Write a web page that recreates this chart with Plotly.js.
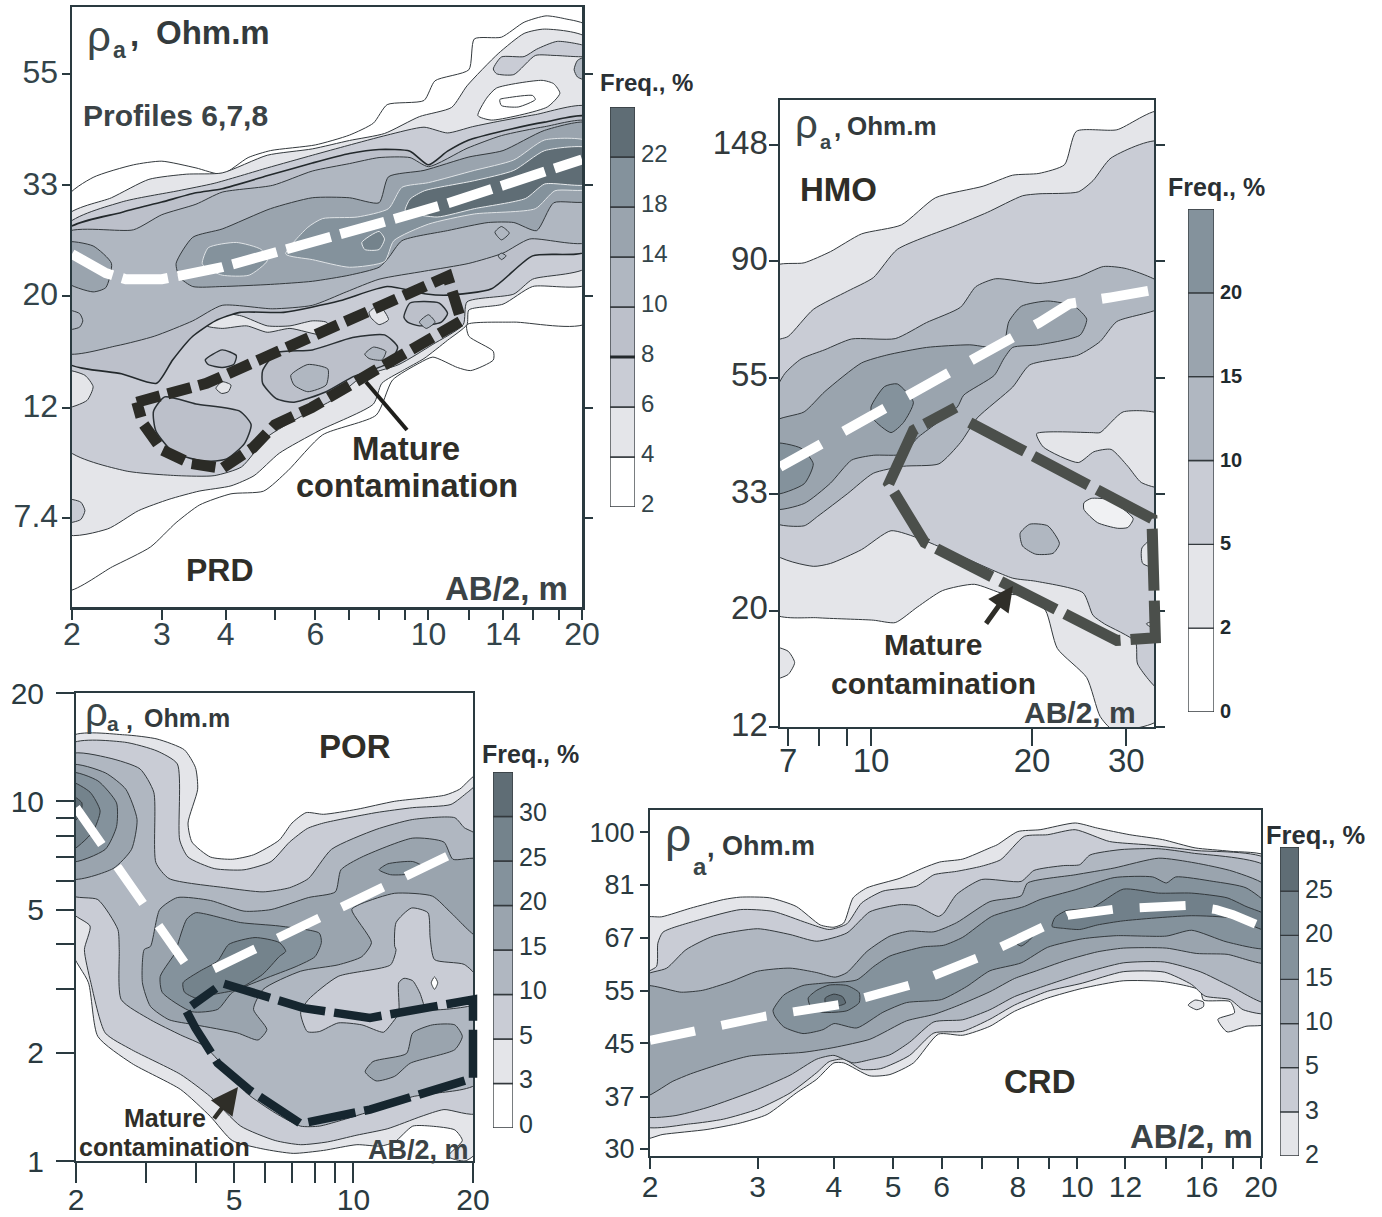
<!DOCTYPE html>
<html><head><meta charset="utf-8">
<script src="https://cdn.plot.ly/plotly-3.0.1.min.js"></script>
<style>html,body{margin:0;padding:0;background:#fff}#c{width:1382px;height:1217px}</style></head>
<body><div id="c"></div>
<script>
const C={w:'#ffffff',c2:'#e4e5e9',c3:'#c9ccd5',c4:'#bcc0ca',c5:'#b0b7c1',c6:'#9aa4ae',c7:'#84929c',c8:'#74838c',c9:'#5f6d75'};

/* ---------- PRD : [AB/2 m, rho_a Ohm.m] ---------- */
const prd2Up=[[2,31],[2.2,34.2],[2.64,36.2],[3,36.8],[3.5,35.7],[3.94,34.7],[4.43,37.4],[4.9,38.6],[6,39.6],[7,41.4],[7.8,43.7],[8.3,47.5],[9.8,48.4],[10.3,52.9],[12,55.6],[12.3,63.9],[13.9,64.4],[15.4,68.9],[17,70.9],[18.5,70],[20,67.5]];
const prd2Lo=[[2,5.3],[2.4,5.9],[2.85,6.45],[3.2,7.2],[3.56,7.8],[4.1,8.2],[4.75,8.3],[5.3,9.1],[6.2,10.7],[7.9,11.7],[8.5,13.7],[9.6,14.8],[10.2,15.2],[11.4,14.5],[12.1,14.3],[13.4,15],[13.4,15.6],[12,16.7],[11.9,17.6],[14.7,17.8],[20,17.8]];
const prd4Up=[[2,28.6],[2.39,31.2],[2.83,33.9],[3.35,34.7],[3.94,34.9],[4.83,37.8],[5.92,38.9],[7,40.4],[8.2,41.7],[9.6,45],[11.1,46.9],[11.9,51.7],[13.7,59.8],[15.4,65.5],[16.9,66.8],[20,63.9]];
const prd4Lo=[[2,6.85],[2.35,7],[2.7,7.6],[3.1,8],[3.55,8.3],[4.1,8.5],[4.55,8.9],[5.1,9.85],[6.1,10.9],[7.8,12.3],[8.1,13.5],[8.9,14.3],[9.8,15.1],[10.9,16.4],[11.9,17.6],[12,18.8],[14,19.3],[16,20.9],[20,21.2]];
const prd6Up=[[2,27.4],[2.5,30.6],[3.23,32.2],[3.8,33.3],[4.83,35.7],[5.92,37.8],[6.95,39.5],[8.3,41.4],[9.8,42.9],[10.9,41.8],[12.2,43],[13.8,44.1],[16.2,45.4],[20,47]];
const prd6Lo=[[2,10.1],[2.54,9.1],[3.23,8.9],[3.8,8.9],[4.3,9.26],[4.83,10.6],[5.6,11.6],[6.55,12.6],[7.4,13.9],[8.75,14.7],[10.2,16.1],[11.7,17.6],[11.9,19.5],[14.7,20.2],[16,21.6],[20,22.9]];
const prd8Up=[[2,26.9],[2.5,29.2],[3,30.6],[3.5,31.9],[3.94,32.5],[4.9,34.6],[5.92,36.5],[7,38.1],[8,38.8],[9.2,38.5],[10,36.2],[10.9,38.5],[12,40.5],[13.6,41.9],[16.9,43.9],[20,44.9]];
const prd8Lo=[[2,14.9],[2.5,14.1],[2.93,13.5],[3.15,15],[3.45,16.7],[3.82,17.9],[4.27,18.6],[5.2,18.6],[6.7,19.6],[8.3,20.9],[9.9,20.2],[10.9,20.1],[13.3,20.7],[16,24],[20,24.6]];
const prd10Up=[[2,26.6],[2.64,27],[3,28.9],[3.5,30.3],[3.94,32],[4.95,33],[5.92,35.2],[7,36.4],[8,37.4],[9.2,37.4],[10,35.9],[11.9,39],[13.9,41.3],[16.9,43],[20,44]];
const prd10Lo=[[2,15.5],[2.45,16],[2.9,16.7],[3.45,17.9],[3.94,19.2],[4.95,18.9],[5.92,19.2],[6.9,20.4],[8,21.6],[9.82,22.4],[12,23.2],[14,24.3],[15.8,25.9],[20,25.6]];
const prd14=[[3.2,23.2],[3.45,26.1],[3.94,27.1],[4.9,29.7],[5.92,31.2],[7,31.2],[8,30.5],[8.35,34.3],[9.8,35.3],[12,37.5],[14,38.6],[16.9,42.3],[20,43.7],[20,30.8],[17.6,30.5],[16.3,26.9],[14.7,27.9],[13.1,27.9],[10.9,26.9],[8.87,25.7],[8.35,23.8],[8,22.8],[7,22],[5.92,21.4],[4.9,21.1],[3.94,20.9],[3.45,20.9],[3.25,21.8]];
const prd14Left=[[2,25.5],[2.2,25.1],[2.39,23.2],[2.33,20.8],[2.2,20.4],[2,21.4]];
const prd18A=[[3.6,23.2],[3.7,24.9],[4.2,25.5],[4.7,24.7],[4.83,23.5],[4.45,22],[3.94,22],[3.65,22.8]];
const prd18B=[[5.25,24.2],[5.8,27.3],[6.2,28.4],[7.25,28.6],[8.35,29.7],[8.87,32.7],[10,33.4],[12.3,35.3],[14.7,37],[16.9,40.5],[20,40.2],[20,32.5],[17.7,32.2],[16.2,29.7],[12.3,29],[10,27.7],[8.55,25.7],[8.2,23.4],[7,22.8],[5.92,23.6]];
const prd22A=[[9,29.5],[9.2,31],[9.82,32.2],[12.3,33.7],[14.7,35.3],[16.9,38.6],[20,39],[20,33.2],[16.9,33.2],[15.5,31.1],[12.3,29.7],[10.4,28.6],[9.1,29.2]];
const prd22B=[[7.4,25.5],[8,26.8],[8.2,25.9],[8,24.7],[7.5,24.7]];
const prdDot1=[[13.5,26.7],[13.9,27.4],[14.4,26.6],[13.9,25.8]];
const prdDot2=[[13.7,24],[13.9,24.3],[14.2,24],[13.9,23.6]];
const prdTopGray=[[13.4,55.8],[13.9,58.9],[15.4,59],[16.3,61],[17.9,63.2],[20,61.5],[20,59.2],[17.7,59.3],[16.2,59.3],[14.7,54.4],[13.6,54.6]];
const prdTopEdge=[[20,59],[19.6,58],[19.3,55.6],[19.6,53.8],[20,53]];
const prdHoleA=[[12.5,45.2],[13,48.9],[13.6,51.2],[16.7,53],[17.6,52.2],[18.1,50],[17.1,47],[13.3,44.3]];
const prdHoleB=[[13.8,48.6],[14.3,49],[16,49.5],[16.2,48.6],[15,47],[13.9,47.3]];
const prdLight1=[[3.68,17.5],[3.9,18.5],[4.3,18.3],[4.83,17.5],[5.35,17.5],[5.92,17.9],[6.3,17.8],[6.45,17.3],[6.2,16.8],[5.35,17.3],[4.83,17],[4.4,17.5],[3.94,17.3]];
const prdLight2=[[3.83,13.2],[3.94,13.6],[4.1,13.4],[4.05,13],[3.93,12.9]];
const prdLight3=[[7.65,18.6],[8,19.2],[8.35,18],[8,17.6],[7.7,18.2]];
const prdLeftA=[[2,14.3],[2.12,14],[2.2,13.3],[2.14,12.5],[2,12.1]];
const prdLeftB=[[2,8],[2.08,7.9],[2.12,7.6],[2.08,7.3],[2,7.2]];
const prdLeftC=[[2,18.8],[2.07,18.5],[2.1,17.9],[2.07,17.4],[2,17.2]];
const prdBlobA=[[2.89,11.9],[3.04,12.7],[3.5,12.3],[4.27,11.9],[4.49,11.2],[4.36,10.3],[4.02,9.6],[3.63,9.5],[3.16,9.9],[2.92,10.9]];
const prdBlobB=[[4.73,14.3],[5.03,15.5],[5.92,15.7],[7.1,16.6],[8.2,16.8],[8.7,15.9],[8.35,14.8],[7.1,13.9],[6.3,13],[5.45,12.4],[5.03,12.6],[4.73,13.5]];
const prdBlobC=[[5.37,14],[5.8,14.7],[6.35,14.4],[6.3,13.4],[5.8,13],[5.45,13.4]];
const prdBlobD=[[7.5,15.4],[7.8,15.9],[8.25,15.6],[8.1,15],[7.65,15.1]];
const prdRing=[[3.65,15],[3.94,15.7],[4.2,15.3],[4.15,14.7],[3.94,14.5],[3.7,14.7]];
const prdBlobE=[[8.95,18.2],[9.2,19.4],[10.5,19.4],[10.9,18.5],[10.6,17.8],[9.6,17.5],[9.1,17.8]];
const prdBlobF=[[9.6,17.8],[10,18.4],[10.3,17.8],[9.9,17.3]];
const prdWhiteLine=[[2,24.2],[2.33,22.2],[2.55,21.6],[3,21.6],[3.94,22.8],[5.25,24.6],[8,27.8],[10.9,30.4],[16.3,34.7],[20,37.1]];
const prdZone=[[2.68,12.4],[3.67,13.5],[4.72,15.1],[6.24,17.1],[7.25,18.2],[8.35,19.5],[10.9,21.9],[11.6,17.9],[10.05,16.4],[7.85,14.3],[5.9,12.1],[5,11.2],[4.53,10.1],[3.94,9.2],[3.42,9.4],[3,10],[2.75,11.3],[2.68,12.4]];

/* ---------- HMO ---------- */
const hmo2Up=[[6.76,87.6],[7.5,89.2],[8.4,93.6],[9.6,101],[11.4,105],[13.2,118],[16.2,124],[18.4,130],[20.6,131],[23,136],[24.2,157],[28.8,158],[33.8,171]];
const hmo2Lo=[[6.76,19.8],[7.95,19.4],[10.1,19.2],[11.1,19],[12.2,20.3],[13.6,21.8],[15.6,22.4],[17.7,21.5],[19.6,21.3],[21.2,20],[22.3,17],[25.3,15],[26.8,12.7],[28.3,12],[33.8,12.6]];
const hmo2Left=[[6.76,17.1],[7,16.8],[7.2,16],[7,15.2],[6.76,14.9]];
const hmo5Up=[[6.76,63.3],[7,65],[7.8,73],[9.05,79],[10.1,83.7],[11.2,94.5],[14.5,105],[16.5,110.8],[19.2,119],[20.6,120],[24.4,121],[26,127],[28.1,140],[33.8,150]];
const hmo5Lo=[[6.76,25.7],[7.8,24.2],[8.4,24.5],[9.6,26],[10.9,28.2],[12.4,27.2],[14.7,25.3],[18.4,23],[20.3,22.7],[24.9,21.6],[26,19.6],[27.3,18.9],[31.2,17.5],[31.5,15.9],[33.8,14.2]];
const hmo10=[[6.76,50],[6.9,55.4],[7.4,59],[8.2,61.4],[9.2,64.3],[11.1,64.4],[12.7,69],[14.7,73.7],[15.7,80.5],[17.1,83.3],[20.6,81.6],[24.4,84],[27.2,87.8],[30,87],[33.8,81.6],[33.8,73.7],[28.8,69.3],[26.8,63.6],[24.4,60],[19.8,57.5],[18.4,52.3],[15.8,45.8],[14.7,41.2],[13.4,37.6],[11.5,37.2],[10.1,36.1],[9.05,33.1],[7.95,30],[7.5,28.8],[6.76,29.3]];
const hmo15=[[6.76,44.9],[7.5,47],[8.2,51.3],[9.6,58],[10.7,60],[12.7,62],[15.3,62.7],[17.6,62],[18.1,69.3],[19.1,74],[21.4,75.7],[24,74],[25.3,70],[24.6,65.4],[20.6,62.7],[18.4,62],[17.7,59],[17,55],[14.9,50.5],[14.5,48],[12.2,42],[11.5,39.2],[10.1,39],[9.2,38.2],[8.4,34.6],[7.5,31.7],[6.76,31]];
const hmo20A=[[10,48],[10.6,52.4],[11.2,53],[12,49],[11.5,44.9],[10.9,43],[10.1,45.6]];
const hmo20B=[[6.76,41],[7.4,40.2],[7.8,37.6],[7.5,34.5],[6.76,33]];
const hmoHoleA=[[26.8,43],[29.6,47],[33.8,46.4],[33.8,34],[32,34.7],[30.2,37.2],[28.1,40],[26.1,39.6],[24.4,37.8],[21,40.4],[20.4,42.8],[25.8,43]];
const hmoHoleB=[[25,31.8],[25.8,32.4],[27.9,32.2],[30.9,29.7],[30.2,28.6],[28.9,28.5],[26.5,29.2],[25,30.9]];
const hmoIsland=[[19,27.9],[19.8,29],[21.4,28.8],[22.5,26.7],[21.9,25.6],[20.3,25.5],[19.2,26.4]];
const hmoEdgeA=[[33.8,27.9],[32.1,26.2],[32.2,24.5],[33.8,24]];
const hmoEdgeB=[[33.8,19.2],[32.7,18.9],[33.8,18.3]];
const hmoWhiteLine=[[6.76,37.1],[10.5,47.7],[15.6,59.1],[20.6,68.9],[23.5,74.8],[28.1,76.9],[33.8,79.4]];
const hmoZone=[[15.3,44.9],[33.5,29.7],[34,17.8],[28.8,17.6],[12.6,26.8],[10.8,34.5],[12,43.4],[14.4,47.9]];

/* ---------- POR ---------- */
const por3=[[2,15.1],[2.65,15.3],[3.2,14.9],[3.75,13.9],[4,12.4],[4.05,10.8],[3.83,8.7],[3.92,7.7],[4.36,7],[4.95,6.9],[5.6,7.1],[6.5,7.8],[7,8.7],[7.6,9.3],[8.4,9.2],[10.2,9.5],[12.7,10],[17,10.4],[18.5,10.8],[20,11.9],[20,1.07],[19.1,1],[17.3,1.03],[18.8,1.14],[18,1.22],[15.7,1.25],[14.1,1.25],[12.7,1.13],[11.7,1.1],[10.2,1.11],[8.4,1.07],[7.05,1.05],[5.92,1.08],[4.95,1.14],[4.36,1.33],[3.67,1.58],[2.76,1.87],[2.27,2.22],[2.15,3.13],[2,3.87]];
const por5=[[2,14.4],[2.65,14.6],[3.2,13.8],[3.6,12.7],[3.65,7.8],[3.83,7],[4.46,6.5],[5.3,6.45],[6.2,6.8],[6.9,7.7],[7.65,8.4],[8.4,8.7],[11.4,9.3],[14.1,9.6],[17.6,9.8],[19.4,10.6],[20,11.1],[20,1.36],[16.9,1.39],[14.8,1.33],[12.2,1.23],[10.2,1.18],[8.6,1.13],[7.36,1.11],[6.35,1.14],[5.2,1.25],[4.36,1.51],[3.67,1.74],[2.76,2.04],[2.37,2.27],[2.18,3.13],[2.1,3.87],[2.17,4.5],[2,4.95]];
const por10=[[2,13.5],[2.42,13.2],[2.9,12.3],[3.14,10.6],[3.18,6.75],[3.43,6.1],[4.76,5.75],[5.92,5.6],[6.9,5.75],[7.7,6.1],[8.8,7.35],[11.4,8.35],[14.1,8.9],[18,9],[19,8.45],[20,8],[20,1.65],[15.9,1.54],[14.1,1.51],[11.4,1.39],[9.15,1.29],[8.2,1.25],[7.36,1.25],[6.35,1.36],[5.4,1.54],[4.76,1.81],[4.2,2.09],[3.67,2.24],[3.08,2.47],[2.6,2.81],[2.57,3.87],[2.55,4.4],[2.27,5.33],[2,5.5]];
const porPocket=[[12.8,4.6],[14,5.05],[15.4,4.9],[15.6,4.17],[16,3.63],[19,3.52],[20,3.22],[20,2.75],[16,2.63],[15.2,2.66],[14.7,2.93],[14.1,3.17],[13.4,3.22],[13,3.13],[13,2.58],[12.4,2.39],[11.9,2.28],[10.5,2.39],[9.15,2.42],[8.2,2.29],[7.65,2.29],[7.36,2.58],[7.7,2.81],[9.15,3.26],[12.4,3.51],[12.8,3.87],[12.7,3.95]];
const por15A=[[2,12.6],[2.37,12],[2.67,10.8],[2.85,8.9],[2.76,7.35],[2.48,6.5],[2,6.1]];
const por15B=[[3.08,3.95],[3.25,5],[3.6,5.4],[4.36,5.3],[5.3,4.95],[6.2,5],[7.7,5.4],[9,5.6],[9.3,6.45],[10.5,7],[14.1,7.9],[16.9,7.7],[17.8,6.9],[20,6.9],[20,4.2],[17.6,4.9],[15.8,5.45],[12.7,5.55],[10.5,5.2],[9.9,5],[11.1,4.05],[10.5,3.7],[9.15,3.51],[7.36,3.37],[5.92,3],[5.6,2.64],[6.05,2.32],[5.75,2.17],[5.1,2.27],[4,2.39],[3.43,2.47],[3.08,2.69],[2.94,3.13],[2.97,3.87]];
const por15C=[[10.7,1.77],[11.2,1.89],[13.6,1.99],[14.1,2.27],[15.8,2.39],[18,2.39],[18.8,2.22],[18,2.04],[13.9,1.87],[12.7,1.72],[11.4,1.67]];
const por20A=[[2,12],[2.27,11.4],[2.53,9.9],[2.53,8.5],[2.37,7.35],[2,6.8]];
const por20B=[[3.6,3.95],[3.8,4.7],[4,4.9],[5.2,4.6],[6.5,4.5],[8.2,4.3],[8.3,4.05],[8,3.7],[7.2,3.48],[5.92,3.2],[4.95,2.94],[4.55,2.64],[3.92,2.6],[3.3,2.94],[3.26,3.26],[3.6,3.87]];
const por20C=[[11.6,6.45],[12.2,6.7],[14.1,6.8],[14.9,6.6],[14.1,6.3],[12.4,6.25]];
const por25A=[[2,11.3],[2.17,10.6],[2.3,9.4],[2.2,8.2],[2,7.3]];
const por25B=[[3.72,3.13],[4.1,3.37],[4.55,3.6],[4.85,4],[5.65,4.18],[6.5,4.05],[6.75,3.83],[6.5,3.7],[5.9,3.3],[5.1,3],[4.4,2.9],[4,2.84],[3.75,2.95]];
const por30=[[2,10.4],[2.07,9.9],[2.05,9.2],[2,8.6]];
const porDot=[[15.7,3.13],[16,3.25],[16.3,3.13],[16,3]];
const porWhiteA=[[2,9.6],[3.6,3.85],[3.78,3.52]];
const porWhiteB=[[4.45,3.42],[18,7.2]];
const porZone=[[4.72,3.11],[7.5,2.66],[11,2.5],[20,2.81],[20,1.7],[14.1,1.51],[11,1.39],[7.36,1.27],[5.45,1.58],[4.55,1.87],[4.2,2.13],[4,2.34],[3.78,2.63],[4.5,3.02]];

/* ---------- CRD ---------- */
const crd2Up=[[2,72.2],[2.09,72.6],[2.33,75],[2.64,77.5],[2.81,78.2],[3.14,78],[3.47,75.5],[3.8,70.4],[4,69.8],[4.15,70.9],[4.3,78],[4.53,81],[5.13,84],[5.6,87.3],[5.96,89.3],[6.5,90.3],[7.2,94.2],[7.4,95.3],[8,100.2],[8.7,100.9],[9.93,103.5],[10.8,101.5],[12.2,99],[13.8,97.2],[15.6,94.2],[17.8,93],[20,90.9]];
const crd2Lo=[[2,31.4],[2.1,31.9],[2.48,32.5],[2.81,33.3],[3.11,34.4],[3.47,37.3],[3.75,39.3],[4,41.8],[4.15,41.8],[4.58,39.8],[4.94,40],[5.4,41.8],[5.93,46.6],[6.5,46.4],[7.2,48],[7.9,50.8],[8.95,53.4],[10.2,55.4],[11.9,57],[13.9,56.8],[15.9,55],[16.1,53],[17.8,52.7],[18.1,50.5],[17,49.3],[17.6,47],[18.9,48],[20,48.6]];
const crdSpot=[[15.2,52],[15.6,53],[16.1,52.6],[16.1,51.7],[15.7,51.1]];
const crd3Up=[[2,58],[2.05,60.2],[2.06,65.7],[2.1,68.5],[2.41,71.8],[2.81,74.6],[3.18,74.1],[3.62,70.9],[3.93,69.2],[4.2,70.7],[4.44,76.5],[4.81,80],[5.46,81.5],[5.83,85.1],[6.35,86.2],[6.98,87.9],[7.5,90.1],[8.2,98.4],[8.95,99],[9.93,100.9],[11.3,96.5],[13,95.3],[15.6,93.3],[20,89.9]];
const crd3Lo=[[2,33],[2.33,33.2],[2.64,33.8],[3,35.1],[3.39,37.3],[3.75,40.3],[3.93,42],[4.15,42.4],[4.44,40.8],[4.77,40.9],[5.32,43],[5.83,46.8],[6.5,47.1],[7.2,49.3],[7.9,52],[8.95,54.8],[10.2,56.5],[11.9,59],[13.9,58.9],[15.4,56.2],[16.2,53.8],[17.8,53.1],[18.7,51.1],[20,50.5]];
const crd5Up=[[2,57.8],[2.13,59.8],[2.29,64.1],[2.54,67.5],[3,69.4],[3.39,67.9],[3.75,66.2],[4.2,68.3],[4.58,74],[5.13,76],[5.46,75.7],[5.93,72.7],[6.05,73.6],[6.35,79],[6.98,83.6],[8.1,83],[8.5,86.5],[9.5,88.1],[10.1,88.4],[10.5,91.7],[11.8,93.6],[13.6,93.9],[15.4,92.4],[20,87.3]];
const crd5Lo=[[2,34.3],[2.18,34.2],[2.48,35.3],[3,37.8],[3.39,39.9],[3.75,42.4],[4,43],[4.3,41.8],[4.58,42.3],[4.94,43.1],[5.32,45.2],[5.83,48.8],[6.5,49.2],[7.2,51.1],[7.9,53.7],[8.8,55.8],[10.2,58.6],[11.9,61],[13.9,61.2],[15.9,59],[17.8,55.9],[20,52.4]];
const crd10Up=[[2,55.8],[2.25,54.6],[2.44,55],[2.71,56.8],[3,59.1],[3.39,59.8],[3.75,58.8],[4.02,57.8],[4.2,58.8],[4.53,63.7],[4.94,67.5],[5.32,68.8],[5.83,68.6],[6.35,71],[7.2,76.9],[8.1,78.6],[8.3,82.5],[9.93,85.1],[11.5,87.3],[13.6,90.6],[15.6,89],[18,86.2],[20,81]];
const crd10Lo=[[2,36.7],[2.18,39],[2.33,40.1],[2.64,41.8],[2.91,42.9],[3.56,43.5],[4,44.3],[4.58,45.7],[4.81,46.8],[5.26,49],[5.83,50.2],[6.35,51.8],[7.2,54.7],[7.9,57.5],[8.5,59],[9.6,61.6],[10.8,63.6],[11.9,64.5],[14,64.5],[15.7,63.2],[17.6,63],[20,61]];
const crd15=[[3.18,51],[3.31,54],[3.56,56],[3.84,56.5],[4.36,57.2],[4.65,60.2],[4.94,62.6],[5.6,64.8],[6.05,65.2],[6.5,67.2],[7.25,72.7],[8.2,75.5],[8.7,77.5],[9.93,80.4],[11.5,84.2],[13.3,84.4],[14,82.5],[14.5,84.4],[16.7,83],[18.9,81],[20,75.5],[20,64.5],[17.6,66],[15.4,69],[14,67.5],[11.6,67.6],[10.2,66.8],[8.95,64.7],[8.1,61],[7.2,59.2],[6.6,55.8],[6,53.1],[5.26,52.5],[4.81,50.6],[4.36,47.7],[4,48.5],[3.84,47.4],[3.56,46.7],[3.31,47.9],[3.2,49.9]];
const crd20A=[[3.63,53.4],[3.75,55],[3.93,56.1],[4.2,56],[4.4,54.5],[4.4,52.5],[4.2,50.9],[3.84,50.6],[3.67,51.5]];
const crd20B=[[9.1,70],[9.2,72.4],[9.6,74.3],[10.6,75.2],[11.9,80.6],[13.6,79.4],[15.4,79.4],[17.6,78],[18.9,75.5],[20,72.7],[20,68.8],[18,72.2],[15.4,72.9],[11.9,71.5],[10.8,70.4],[10.1,69.2],[9.5,69.5]];
const crd20C=[[7.85,66.5],[8.15,68.3],[8.45,67.4],[8.1,65]];
const crd25=[[3.87,53.4],[4,54.2],[4.13,53.7],[4.18,52.4],[4.05,51.8],[3.88,52.1]];
const crdWhiteLine=[[2,45.5],[3.1,49.9],[4.09,52.1],[5.36,56.2],[6.94,62.4],[8.75,69.4],[9.65,73],[11.6,74.8],[15.2,75.8],[16.9,74.6],[18,73.2],[20,70]];

/* ---------- axes ticks and legends ---------- */
const prdXT=[2,3,4,5,6,7,8,9,10,12,14,16,18,20], prdXL=['2','3','4','','6','','','','10','','14','','','20'];
const prdYT=[7.35,12.1,20,33,54.5], prdYL=['7.4','12','20','33','55'];
const hmoXT=[7,8,9,10,20,30], hmoXL=['7','','','10','20','30'];
const hmoYT=[12.13,20,33,54.4,89.8,148], hmoYL=['12','20','33','55','90','148'];
const porXT=[2,3,4,5,6,7,8,9,10,20], porXL=['2','','','5','','','','','10','20'];
const porYT=[1,2,3,4,5,6,7,8,9,10,20], porYL=['1','2','','','5','','','','','10','20'];
const crdXT=[2,3,4,5,6,7,8,9,10,12,14,16,18,20], crdXL=['2','3','4','5','6','','8','','10','12','','16','','20'];
const crdYT=[30.2,36.8,45,54.9,67,81.9,100], crdYL=['30','37','45','55','67','81','100'];
const prdLeg=['2','4','6','8','10','14','18','22'], prdLegC=[C.w,C.c2,C.c3,C.c4,C.c5,C.c6,C.c7,C.c9];
const hmoLeg=['0','2','5','10','15','20'], hmoLegC=[C.w,C.c2,C.c3,C.c5,C.c6,C.c7];
const porLeg=['0','3','5','10','15','20','25','30'], porLegC=[C.w,C.c2,C.c3,C.c5,C.c6,C.c7,C.c8,C.c9];
const crdLeg=['2','3','5','10','15','20','25'], crdLegC=[C.c2,C.c3,C.c5,C.c6,C.c7,C.c8,C.c9];

const W=1382,H=1217, F='"Liberation Sans",Arial,sans-serif';
const traces=[];
function fillPts(ax,pts,color,o){o=o||{};
  const [x0,x1]=ax.xr;
  const p=pts.concat([pts[0]]);
  traces.push({type:'scatter',mode:'lines',xaxis:ax.x,yaxis:ax.y,fill:'toself',fillcolor:color,
    x:p.map(q=>q[0]<=x0?q[0]*0.97:(q[0]>=x1?q[0]*1.03:q[0])),y:p.map(q=>q[1]),
    line:{color:o.lc||'#33393d',width:o.lw==null?1:o.lw,shape:'spline',smoothing:o.s==null?0.6:o.s},hoverinfo:'skip',showlegend:false});
}
function band(ax,up,lo,color,o){fillPts(ax,up.concat(lo.slice().reverse()),color,o);}
function path(ax,pts,color,width,dash){
  traces.push({type:'scatter',mode:'lines',xaxis:ax.x,yaxis:ax.y,x:pts.map(q=>q[0]),y:pts.map(q=>q[1]),
    line:{color:color,width:width,dash:dash,shape:'linear'},hoverinfo:'skip',showlegend:false});
}
const P={x:'x',y:'y',xr:[2,20]}, Hm={x:'x2',y:'y2',xr:[6.76,33.8]}, R={x:'x3',y:'y3',xr:[2,20]}, Cr={x:'x4',y:'y4',xr:[2,20]};

/* PRD */
band(P,prd2Up,prd2Lo,C.w);
band(P,prd4Up,prd4Lo,C.c2);
fillPts(P,prdLeftB,C.c3);
band(P,prd6Up,prd6Lo,C.c3);
fillPts(P,prdTopGray,C.c3); fillPts(P,prdTopEdge,C.c5);
fillPts(P,prdHoleA,C.w); fillPts(P,prdHoleB,C.w);
fillPts(P,prdLeftA,C.c2);
[prdLight1,prdLight2,prdLight3].forEach(a=>fillPts(P,a,C.c2));
[prdBlobA,prdBlobB].forEach(a=>fillPts(P,a,C.c4,{lw:1.5,lc:'#2a3034'}));
[prdBlobC,prdBlobD].forEach(a=>fillPts(P,a,C.c5));
band(P,prd8Up,prd8Lo,C.c4,{lw:1.6,lc:'#23292c'});
band(P,prd10Up,prd10Lo,C.c5);
fillPts(P,prdLeftC,C.c5);
fillPts(P,prdRing,C.c4,{lw:1.4,lc:'#2a3034'});
fillPts(P,prdBlobE,C.c4,{lw:1.4,lc:'#2a3034'}); fillPts(P,prdBlobF,C.c5);
fillPts(P,prd14Left,C.c6);
fillPts(P,prd14,C.c6);
fillPts(P,prdDot1,C.c5); fillPts(P,prdDot2,C.c5);
fillPts(P,prd18A,C.c7,{lc:'#dfe3e6'}); fillPts(P,prd18B,C.c7,{lc:'#dfe3e6'});
fillPts(P,prd22A,C.c9,{lc:'#e8ebed'}); fillPts(P,prd22B,C.c8,{lc:'#e8ebed'});
path(P,prdWhiteLine,'#ffffff',10,'46px,10px');
path(P,prdZone,'#2b2b26',11,'24px,8px');

/* HMO */
band(Hm,hmo2Up,hmo2Lo,C.c2);
fillPts(Hm,hmo2Left,C.c2);
band(Hm,hmo5Up,hmo5Lo,C.c3);
fillPts(Hm,hmoHoleA,C.c2); fillPts(Hm,hmoHoleB,'#f0f1f3'); fillPts(Hm,hmoEdgeA,C.c2); fillPts(Hm,hmoEdgeB,C.c2);
fillPts(Hm,hmoIsland,C.c5);
fillPts(Hm,hmo10,C.c5);
fillPts(Hm,hmo15,C.c6);
fillPts(Hm,hmo20A,C.c7); fillPts(Hm,hmo20B,C.c7);
path(Hm,hmoWhiteLine,'#ffffff',10,'47px,26px');
path({x:'x9',y:'y9'},hmoZone,'#4b4f4b',11,'62px,10px');

/* POR */
fillPts(R,por3,C.c2);
fillPts(R,por5,C.c3);
fillPts(R,por10,C.c5);
fillPts(R,porPocket,C.c3);
fillPts(R,por15A,C.c6); fillPts(R,por15B,C.c6); fillPts(R,por15C,C.c6);
fillPts(R,porDot,C.w);
fillPts(R,por20A,C.c7); fillPts(R,por20B,C.c7); fillPts(R,por20C,C.c7);
fillPts(R,por25A,C.c8); fillPts(R,por25B,C.c8);
fillPts(R,por30,C.c9);
path(R,porWhiteA,'#ffffff',9,'45px,27px');
path(R,porWhiteB,'#ffffff',9,'46px,25px');
path({x:'x10',y:'y10'},porZone,'#16262f',8.5,'48px,9px');

/* CRD */
band(Cr,crd2Up,crd2Lo,C.c2);
fillPts(Cr,crdSpot,C.c2);
band(Cr,crd3Up,crd3Lo,C.c3);
band(Cr,crd5Up,crd5Lo,C.c5);
band(Cr,crd10Up,crd10Lo,C.c6);
fillPts(Cr,crd15,C.c7);
fillPts(Cr,crd20A,C.c8); fillPts(Cr,crd20B,'#71808a'); fillPts(Cr,crd20C,C.c8);
fillPts(Cr,crd25,C.c9);
path(Cr,crdWhiteLine,'#ffffff',9,'46px,27px');

/* legends */
function legend(xa,ya,labels,colors){
  const idx=labels.map((_,i)=>i);
  traces.push({type:'bar',xaxis:xa,yaxis:ya,x:idx.map(()=>0),y:idx.map(()=>1),base:idx,width:1,
    marker:{color:colors,line:{color:'#33393d',width:1.3}},hoverinfo:'skip',showlegend:false});
}
legend('x5','y5',prdLeg,prdLegC);
legend('x6','y6',hmoLeg,hmoLegC);
legend('x7','y7',porLeg,porLegC);
legend('x8','y8',crdLeg,crdLegC);
traces.push({type:'scatter',mode:'lines',xaxis:'x5',yaxis:'y5',x:[-0.5,0.5],y:[3,3],line:{color:'#23292c',width:3},hoverinfo:'skip',showlegend:false});

const fx=v=>v/W, fy=v=>1-v/H, L10=Math.log10;
const dark='#2a3a40';
function xax(l,r,xr,tv,tt,o){return Object.assign({domain:[fx(l),fx(r)],type:'log',range:[L10(xr[0]),L10(xr[1])],tickmode:'array',tickvals:tv,ticktext:tt,ticks:'outside',ticklen:11,tickwidth:2,tickcolor:dark,showgrid:false,zeroline:false,showline:true,linecolor:dark,linewidth:2.5,mirror:true,tickfont:{family:F,size:32,color:'#33444a'},layer:'above traces'},o||{});}
function yax(t,b,yr,tv,tt,o){return Object.assign({domain:[fy(b),fy(t)],type:'log',range:[L10(yr[0]),L10(yr[1])],tickmode:'array',tickvals:tv,ticktext:tt,ticks:'outside',ticklen:9,tickwidth:2,tickcolor:dark,showgrid:false,zeroline:false,showline:true,linecolor:dark,linewidth:2.5,mirror:true,tickfont:{family:F,size:32,color:'#33444a'},layer:'above traces'},o||{});}
function lx(l,r,y){return {domain:[fx(l),fx(r)],range:[-0.5,0.5],showticklabels:false,ticks:'',showgrid:false,zeroline:false,showline:false,anchor:y};}
function ly(t,b,x,labels,font,shift){return {domain:[fy(b),fy(t)],range:[0,labels.length],tickmode:'array',tickvals:labels.map((_,i)=>i),ticktext:labels,side:'right',anchor:x,ticks:'',showgrid:false,zeroline:false,showline:false,tickfont:font,ticklabelstandoff:5,ticklabelshift:shift};}
function ghost(dom,range,anchor){return {domain:dom,range:range,type:'log',visible:false,anchor:anchor};}

const layout={width:W,height:H,margin:{l:0,r:0,t:0,b:0,pad:0},paper_bgcolor:'#fff',plot_bgcolor:'rgba(0,0,0,0)',showlegend:false,bargap:0,barmode:'overlay',
  xaxis:xax(72,582,[2,20],prdXT,prdXL,{anchor:'y',ticklen:10,ticklabelstandoff:-13}),
  yaxis:yax(7,607,[4.92,73.8],prdYT,prdYL,{anchor:'x',mirror:'ticks',ticklen:8,ticklabelstandoff:-3,ticklabelshift:-2}),
  xaxis2:xax(780,1154,[6.76,33.8],hmoXT,hmoXL,{anchor:'y2',ticklen:17,linewidth:1.6,tickfont:{family:F,size:33,color:'#2a3a40'},ticklabelstandoff:-13}),
  yaxis2:yax(100,727,[12.13,179.6],hmoYT,hmoYL,{anchor:'x2',mirror:'ticks',linewidth:1.6,tickfont:{family:F,size:33,color:'#333a3c'},ticklabelstandoff:-5,ticklabelshift:-3}),
  xaxis3:xax(76,473,[2,20],porXT,porXL,{anchor:'y3',ticklen:20,linewidth:2,tickfont:{family:F,size:30,color:'#2a3a40'},ticklabelstandoff:-9}),
  yaxis3:yax(693,1161,[1,20],porYT,porYL,{anchor:'x3',ticklen:18,linewidth:2,tickfont:{family:F,size:30,color:'#2a3a40'},ticklabelstandoff:6}),
  xaxis4:xax(650,1261,[2,20],crdXT,crdXL,{anchor:'y4',ticklen:11,linewidth:2,tickfont:{family:F,size:30,color:'#2a3a40'},ticklabelstandoff:-8}),
  yaxis4:yax(810,1156,[29.4,108.7],crdYT,crdYL,{anchor:'x4',ticklen:8,linewidth:2,tickfont:{family:F,size:27,color:'#2a3a40'}}),
  xaxis5:lx(610,635,'y5'), yaxis5:ly(107,507,'x5',prdLeg,{family:F,size:24,color:'#33444a'},-3),
  xaxis6:lx(1188,1214,'y6'), yaxis6:ly(209,712,'x6',hmoLeg,{family:F,size:20,color:'#1f2a2e',weight:700},-1),
  xaxis7:lx(493,513,'y7'), yaxis7:ly(772,1128,'x7',porLeg,{family:F,size:25,color:'#2a3a40'},-4),
  xaxis8:lx(1280,1299,'y8'), yaxis8:ly(847,1156,'x8',crdLeg,{family:F,size:25,color:'#2a3a40'},-2),
  /* same scale as HMO and POR, a few pixels wider so the thick zone outline can straddle the frame */
  xaxis9:ghost([fx(780),fx(1170)],[L10(6.76),L10(33.8*Math.pow(10,16/535))],'y9'),
  yaxis9:ghost([fy(727),fy(100)],[L10(12.13),L10(179.6)],'x9'),
  xaxis10:ghost([fx(76),fx(485)],[L10(2),L10(20*Math.pow(10,12/397))],'y10'),
  yaxis10:ghost([fy(1161),fy(693)],[L10(1),L10(20)],'x10'),
  annotations:[],shapes:[]
};
function T(x,y,text,size,o){o=o||{};layout.annotations.push({xref:'paper',yref:'paper',x:fx(x),y:fy(y),text:text,showarrow:false,xanchor:o.a||'center',yanchor:'middle',
  font:{family:F,size:size,color:o.c||'#3b4346',weight:o.n?400:700}});}
function arrow(x0,y0,x1,y1,w,sz){layout.annotations.push({xref:'paper',yref:'paper',x:fx(x1),y:fy(y1),ax:x0-x1,ay:y0-y1,axref:'pixel',ayref:'pixel',text:'',showarrow:true,arrowhead:2,arrowsize:sz,arrowwidth:w,arrowcolor:'#2f2e28'});}
function rhoLabel(x,y,size,ax,ay,asize,cx,cy,ux,uy,usize){
  T(x,y,'ρ',size,{n:1,c:'#3a4648',a:'left'});
  T(ax,ay,'a',asize,{a:'left',c:'#3a4648'});
  T(cx,cy,',',usize,{a:'left',c:'#333a3c'});
  T(ux,uy,'Ohm.m',usize,{a:'left',c:'#333a3c'});
}
/* PRD labels */
rhoLabel(85,36,42,111,50,23,128,35,154,33,33);
T(81,116,'Profiles 6,7,8',30,{a:'left'});
T(220,570,'PRD',32,{c:'#2f2e28'});
T(507,588,'AB/2, m',33);
T(406,449,'Mature',33,{c:'#2f2e28'}); T(407,486,'contamination',32.5,{c:'#2f2e28'});
T(646,83,'Freq., %',24,{c:'#2a3034'});
layout.shapes.push({type:'line',xref:'paper',yref:'paper',x0:fx(366),y0:fy(382),x1:fx(407),y1:fy(430),line:{color:'#1f1f1c',width:4}});
/* HMO labels */
rhoLabel(793,124,40,818,142,20,832,128,845,126,26);
T(839,190,'HMO',33,{c:'#2f2e28'});
T(1080,712,'AB/2, m',30);
T(933,644,'Mature',30,{c:'#2f2e28'}); T(933,683,'contamination',30,{c:'#2f2e28'});
T(1216,187,'Freq., %',25,{c:'#2a3034'});
arrow(985,625,1013,586,5,1);
/* POR labels */
rhoLabel(83,712,40,105,723,21,124,720,142,718,25);
T(355,746,'POR',33,{c:'#2f2e28'});
T(418,1150,'AB/2, m',27);
T(165,1118,'Mature',25,{c:'#2f2e28'}); T(164,1147,'contamination',25,{c:'#2f2e28'});
T(530,754,'Freq., %',25,{c:'#2a3034'});
arrow(213,1120,238,1087,4.5,1.2);
/* CRD labels */
rhoLabel(663,835,46,691,866,24,705,848,720,846,27);
T(1040,1081,'CRD',33,{c:'#2f2e28'});
T(1191,1136,'AB/2, m',33);
T(1315,835,'Freq., %',25.5,{c:'#2a3034'});

Plotly.newPlot('c',traces,layout,{displayModeBar:false,staticPlot:true});
</script></body></html>
